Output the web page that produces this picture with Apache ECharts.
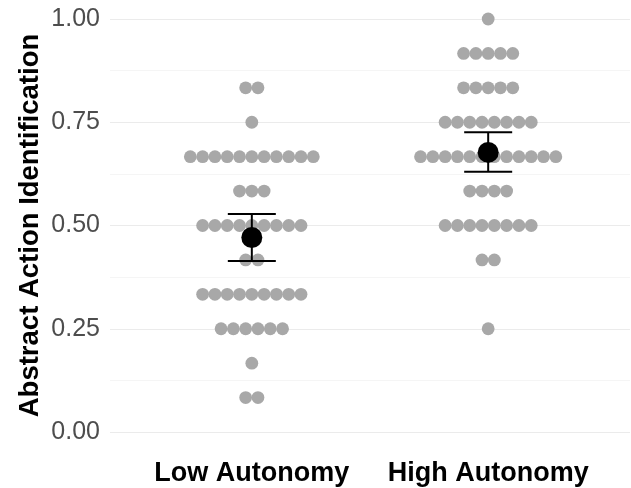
<!DOCTYPE html>
<html><head><meta charset="utf-8">
<script src="https://cdn.jsdelivr.net/npm/echarts@6/dist/echarts.min.js"></script>
<style>html,body{margin:0;padding:0;background:#fff}#c{width:631px;height:488px}</style>
</head><body><div id="c"></div>
<script>
var categories = ['Low Autonomy', 'High Autonomy'];
var levels = [1.0, 0.9167, 0.8333, 0.75, 0.6667, 0.5833, 0.5, 0.4167, 0.3333, 0.25, 0.1667, 0.0833];
var lowCounts  = [0, 0, 2, 1, 11, 3, 9, 2, 9, 6, 1, 2];
var highCounts = [1, 5, 5, 8, 12, 4, 8, 2, 0, 1, 0, 0];
var means = [0.471, 0.677];
var lower = [0.414, 0.630];
var upper = [0.528, 0.726];
var yTicks = [0, 0.25, 0.5, 0.75, 1.0];

var dotStep = 12.3 / 236.4; // x-units per dot width
function dots(counts, center) {
  var out = [];
  for (var i = 0; i < levels.length; i++) {
    var n = counts[i];
    for (var k = 0; k < n; k++) out.push([center + (k - (n - 1) / 2) * dotStep, levels[i]]);
  }
  return out;
}
var dotData = dots(lowCounts, 1).concat(dots(highCounts, 2));
var meanData = means.map(function (m, i) { return [i + 1, m]; });
var errData = means.map(function (m, i) { return [i + 1, lower[i], upper[i]]; });

var chart = echarts.init(document.getElementById('c'));
chart.setOption({
  animation: false,
  backgroundColor: '#ffffff',
  grid: { left: 110, right: 1, top: 19, height: 413 },
  xAxis: {
    type: 'value', min: 0.4, max: 2.6,
    axisLine: { show: false }, axisTick: { show: false }, splitLine: { show: false },
    axisLabel: {
      customValues: [1, 2], margin: 28,
      formatter: function (v) { return categories[Math.round(v) - 1]; },
      fontFamily: 'Liberation Sans', fontWeight: 'bold', fontSize: 27, color: '#000'
    }
  },
  yAxis: {
    type: 'value', min: 0, max: 1, interval: 0.25,
    name: 'Abstract Action Identification', nameLocation: 'middle', nameRotate: 90, nameGap: 66,
    nameMoveOverlap: false,
    nameTextStyle: { fontFamily: 'Liberation Sans', fontWeight: 'bold', fontSize: 27.5, color: '#000' },
    axisLine: { show: false }, axisTick: { show: false },
    axisLabel: { margin: 10, fontFamily: 'Liberation Sans', fontSize: 25, color: '#4d4d4d',
      formatter: function (v) { return v.toFixed(2); } },
    splitLine: { show: true, lineStyle: { color: '#ebebeb', width: 1.1 } },
    minorTick: { show: false, splitNumber: 2 },
    minorSplitLine: { show: true, lineStyle: { color: '#f3f3f3', width: 0.8 } }
  },
  series: [
    { type: 'scatter', data: dotData, symbolSize: 12.8, clip: false,
      itemStyle: { color: '#a8a8a8', opacity: 1 }, z: 2 },
    { type: 'custom', data: errData, clip: false, z: 3,
      renderItem: function (params, api) {
        var x = api.value(0);
        var lo = api.coord([x, api.value(1)]);
        var hi = api.coord([x, api.value(2)]);
        var hw = 24;
        var st = { stroke: '#000', lineWidth: 2 };
        return { type: 'group', children: [
          { type: 'line', shape: { x1: lo[0], y1: lo[1], x2: hi[0], y2: hi[1] }, style: st },
          { type: 'line', shape: { x1: lo[0] - hw, y1: lo[1], x2: lo[0] + hw, y2: lo[1] }, style: st },
          { type: 'line', shape: { x1: hi[0] - hw, y1: hi[1], x2: hi[0] + hw, y2: hi[1] }, style: st }
        ]};
      }
    },
    { type: 'scatter', data: meanData, symbolSize: 21, clip: false,
      itemStyle: { color: '#000', opacity: 1 }, z: 4 }
  ]
});
</script></body></html>
